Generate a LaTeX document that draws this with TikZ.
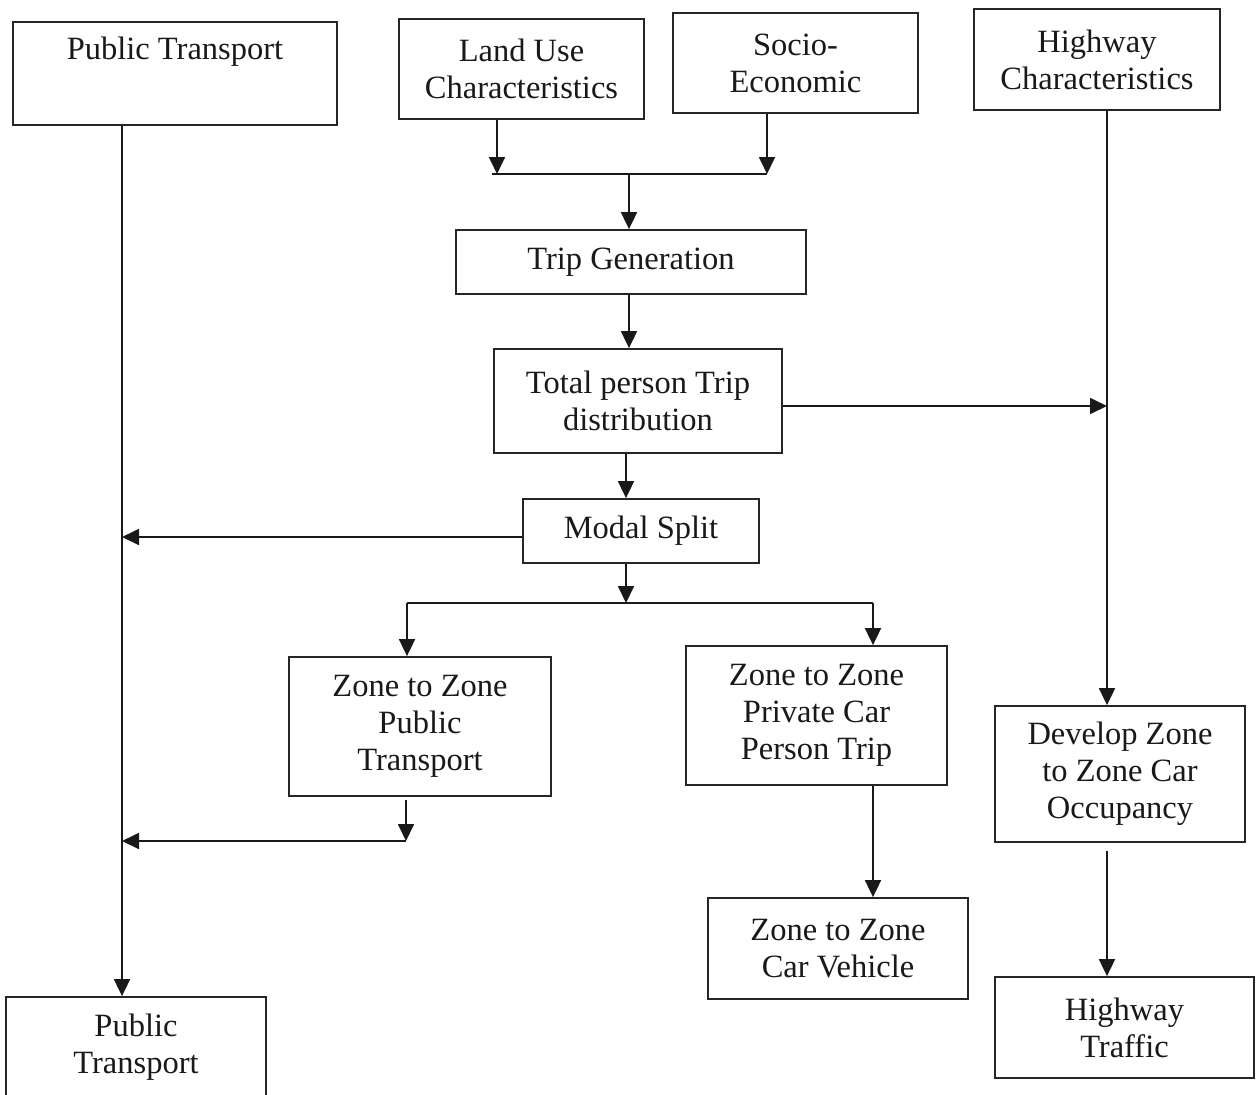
\documentclass[tikz,border=0pt]{standalone}
\usepackage{fontspec}
\setmainfont{Liberation Serif}
\usetikzlibrary{arrows.meta}
\begin{document}
\begin{tikzpicture}[x=1pt,y=-1pt,
  box/.style={draw=black!85, line width=1.8pt, rectangle, inner sep=0pt,
    align=center, font=\fontsize{32.5}{37}\selectfont, text=black!90},
  arr/.style={line width=1.8pt, draw=black!90, -{Triangle[length=17pt,width=16pt]}},
  ln/.style={line width=1.8pt, draw=black!90}]
\useasboundingbox (0,0) rectangle (1256,1095);
\clip (0,0) rectangle (1256,1095);
\fill[white] (0,0) rectangle (1256,1095);

% boxes
\node[box, minimum width=324pt, minimum height=103pt] (pt1) at (175,73.5) {Public Transport\\[3pt]\strut};
\node[box, minimum width=245pt, minimum height=100pt] (lu) at (521.5,69) {Land Use\\Characteristics};
\node[box, minimum width=245pt, minimum height=100pt] (se) at (795.5,63) {Socio-\\Economic};
\node[box, minimum width=246pt, minimum height=101pt] (hc) at (1097,59.5) {Highway\\Characteristics};
\node[box, minimum width=350pt, minimum height=64pt] (tg) at (631,262) {Trip Generation};
\node[box, minimum width=288pt, minimum height=104pt] (td) at (638,401) {Total person Trip\\distribution};
\node[box, minimum width=236pt, minimum height=64pt] (ms) at (641,531) {Modal Split};
\node[box, minimum width=262pt, minimum height=139pt] (zpt) at (420,726.5) {Zone to Zone\\Public\\Transport};
\node[box, minimum width=261pt, minimum height=139pt] (zpc) at (816.5,715.5) {Zone to Zone\\Private Car\\Person Trip};
\node[box, minimum width=250pt, minimum height=136pt] (dz) at (1120,774) {Develop Zone\\to Zone Car\\Occupancy};
\node[box, minimum width=260pt, minimum height=101pt] (cv) at (838,948.5) {Zone to Zone\\Car Vehicle};
\node[box, minimum width=259pt, minimum height=101pt] (ht) at (1124.5,1027.5) {Highway\\Traffic};
\node[box, minimum width=260pt, minimum height=100pt] (pt2) at (136,1047) {Public\\Transport};

% junction points
\coordinate (ja) at (497,174);
\coordinate (jb) at (767,174);
\coordinate (jl) at (492,174);
\coordinate (jm) at (629,174);
\coordinate (jn) at (626,603);
\coordinate (hj) at (1107,406);
\coordinate (pj) at (122,537);
\coordinate (bl) at (407,603);
\coordinate (br) at (873,603);
\coordinate (qj) at (406,841);

% top merge into trip generation
\draw[arr] (lu.south -| ja) -- (ja);
\draw[arr] (se.south -| jb) -- (jb);
\draw[ln] (jl) -- (jb);
\draw[arr] (jm) -- (tg.north -| jm);
\draw[arr] (tg.south -| jm) -- (td.north -| jm);
\draw[arr] (td.south -| jn) -- (ms.north -| jn);

% highway branch
\draw[arr] (td.east |- hj) -- (hj);
\draw[arr] (hc.south -| hj) -- (dz.north -| hj);
\draw[arr, shorten <=8pt] (dz.south -| hj) -- (ht.north -| hj);

% public transport trunk
\draw[arr] (ms.west |- pj) -- (pj);
\draw[arr] (pt1.south -| pj) -- (pt2.north -| pj);

% modal split fan-out
\draw[arr] (ms.south -| jn) -- (jn);
\draw[ln] (bl) -- (br);
\draw[arr] (bl) -- (zpt.north -| bl);
\draw[arr] (br) -- (zpc.north -| br);
\draw[arr, shorten <=3pt] (zpt.south -| qj) -- (qj);
\draw[arr] (qj) -- (pj |- qj);
\draw[arr] (zpc.south -| br) -- (cv.north -| br);
\end{tikzpicture}
\end{document}
